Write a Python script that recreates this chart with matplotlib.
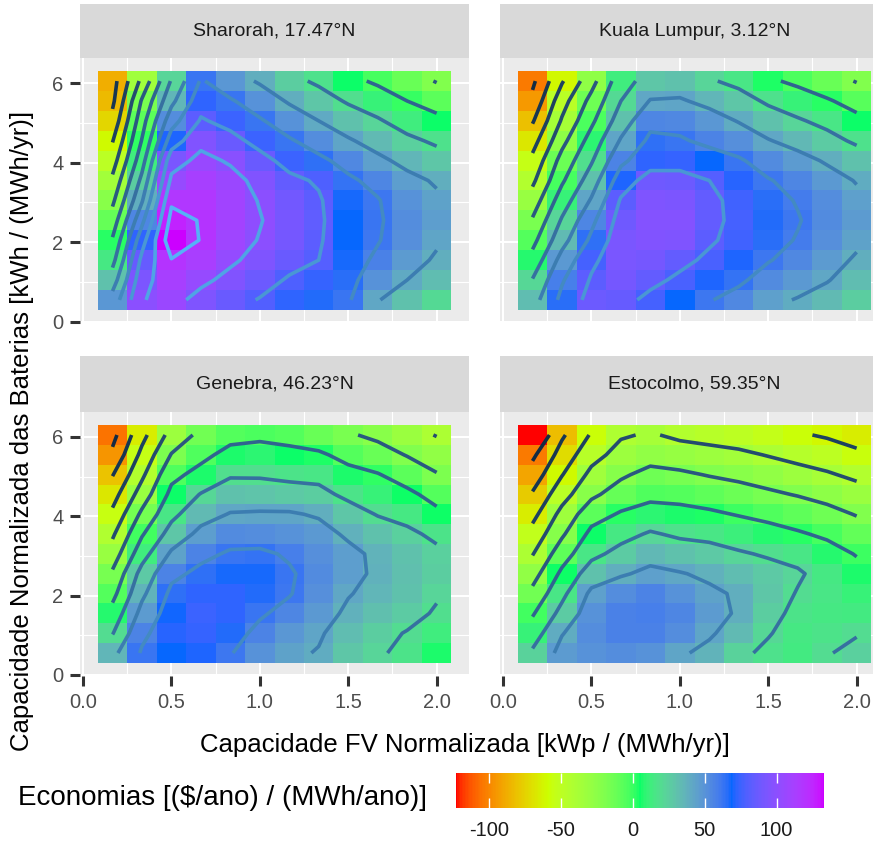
import numpy as np
import matplotlib
matplotlib.use("Agg")
import matplotlib.pyplot as plt
from matplotlib.colors import ListedColormap, Normalize
from matplotlib.cm import ScalarMappable

plt.rcParams['font.family'] = ['Liberation Sans', 'DejaVu Sans']
plt.rcParams['axes.unicode_minus'] = False

# capacidade FV normalizada (centros das colunas)
pv_cap = [0.167, 0.333, 0.5, 0.667, 0.833, 1.0, 1.167, 1.333, 1.5, 1.667, 1.833, 2.0]
# capacidade das baterias (centros das linhas, de cima para baixo)
bat_cap = [6.05, 5.55, 5.05, 4.55, 4.05, 3.55, 3.05, 2.55, 2.05, 1.55, 1.05, 0.55]

sites = ["Sharorah, 17.47°N", "Kuala Lumpur, 3.12°N",
         "Genebra, 46.23°N", "Estocolmo, 59.35°N"]

# economias [($/ano) / (MWh/ano)], linhas de cima para baixo
sharorah = [
    [-88, -35, 22, 62, 48, 38, 25, 17, 5, -3, -12, -21],
    [-84, -18, 35, 72, 62, 50, 38, 28, 18, 10, 0, -8],
    [-74, -8, 52, 82, 74, 62, 50, 40, 30, 22, 12, 5],
    [-61, 1, 70, 95, 86, 74, 62, 52, 42, 33, 24, 17],
    [-49, 12, 92, 105, 98, 86, 74, 64, 54, 44, 35, 28],
    [-36, 25, 104, 112, 106, 95, 84, 78, 63, 55, 45, 38],
    [-24, 38, 117, 117, 109, 99, 89, 82, 67, 61, 50, 43],
    [-11, 55, 126, 119, 110, 101, 91, 83, 68, 62, 52, 45],
    [2, 72, 133, 119, 108, 99, 90, 82, 68, 61, 51, 42],
    [14, 85, 119, 113, 103, 94, 86, 80, 67, 57, 46, 38],
    [30, 93, 112, 104, 95, 87, 78, 73, 65, 50, 40, 32],
    [48, 99, 106, 94, 86, 79, 72, 66, 62, 41, 30, 20],
]
kuala_lumpur = [
    [-104, -62, -27, 12, 28, 30, 22, 15, 3, -4, -12, -21],
    [-95, -48, -14, 20, 41, 42, 35, 28, 17, 10, 2, -7],
    [-82, -38, -4, 30, 55, 54, 48, 39, 30, 22, 15, 5],
    [-68, -26, 8, 42, 64, 62, 56, 51, 41, 34, 26, 17],
    [-55, -13, 18, 56, 72, 73, 68, 62, 53, 46, 38, 30],
    [-44, -3, 30, 70, 88, 87, 80, 71, 61, 55, 47, 39],
    [-31, 10, 42, 82, 94, 93, 84, 75, 65, 59, 52, 44],
    [-18, 22, 55, 88, 96, 96, 84, 76, 66, 61, 53, 46],
    [-6, 33, 64, 92, 95, 94, 82, 75, 65, 59, 51, 43],
    [7, 47, 76, 92, 90, 84, 77, 70, 61, 54, 46, 38],
    [21, 58, 82, 90, 84, 77, 70, 63, 53, 47, 41, 32],
    [32, 65, 87, 85, 76, 68, 61, 54, 44, 39, 33, 25],
]
genebra = [
    [-106, -66, -33, -15, -6, -4, -6, -12, -18, -24, -32, -41],
    [-96, -55, -19, -5, 6, 8, 5, 3, -6, -12, -21, -28],
    [-81, -44, -5, 6, 18, 18, 16, 15, 6, 1, -8, -19],
    [-68, -31, 5, 21, 30, 29, 27, 25, 16, 10, 4, -6],
    [-56, -16, 15, 33, 41, 42, 42, 38, 28, 19, 14, 4],
    [-43, -2, 28, 45, 53, 52, 50, 47, 37, 30, 24, 16],
    [-31, 12, 43, 56, 62, 63, 58, 51, 45, 36, 30, 24],
    [-17, 27, 56, 64, 67, 67, 62, 53, 45, 37, 31, 25],
    [-6, 36, 64, 72, 72, 66, 61, 51, 41, 35, 30, 22],
    [7, 46, 69, 74, 72, 62, 55, 47, 37, 31, 26, 18],
    [19, 56, 71, 73, 66, 56, 48, 42, 32, 25, 19, 12],
    [35, 62, 68, 70, 61, 50, 43, 39, 28, 22, 16, 6],
]
estocolmo = [
    [-123, -83, -58, -42, -38, -44, -47, -50, -54, -58, -62, -66],
    [-104, -72, -47, -33, -28, -30, -33, -36, -41, -46, -50, -57],
    [-91, -61, -35, -23, -14, -17, -21, -24, -28, -33, -38, -44],
    [-78, -48, -24, -11, -5, -6, -9, -13, -17, -21, -26, -32],
    [-66, -34, -8, 2, 8, 6, 3, -1, -5, -9, -14, -21],
    [-53, -23, 5, 14, 22, 17, 15, 11, 7, 2, -3, -10],
    [-41, -9, 15, 26, 34, 30, 27, 22, 18, 15, 7, -1],
    [-28, 4, 30, 38, 44, 41, 37, 32, 27, 22, 14, 6],
    [-15, 15, 44, 52, 56, 50, 43, 38, 28, 19, 15, 10],
    [-2, 26, 50, 57, 58, 55, 46, 38, 25, 16, 14, 13],
    [10, 39, 52, 57, 57, 52, 42, 33, 21, 14, 16, 19],
    [23, 46, 50, 52, 50, 42, 36, 23, 17, 13, 19, 24],
]
savings = [sharorah, kuala_lumpur, genebra, estocolmo]

fill_colors = ["#FF0000", "#CCFF00", "#00FF66", "#0066FF", "#CC00FF"]
line_colors = ["#132B43", "#56B1F7"]
contour_levels = np.arange(-100, 121, 20)

x_label = "Capacidade FV Normalizada [kWp / (MWh/yr)]"
y_label = "Capacidade Normalizada das Baterias [kWh / (MWh/yr)]"
legend_title = r"Economias [(\$/ano) / (MWh/ano)]"

# interpolacao em Lab, como o ggplot
M = np.array([[0.4124564, 0.3575761, 0.1804375],
              [0.2126729, 0.7151522, 0.0721750],
              [0.0193339, 0.1191920, 0.9503041]])
WHITE = np.array([0.95047, 1.0, 1.08883])


def hex_to_lab(h):
    rgb = np.array([int(h[i:i + 2], 16) for i in (1, 3, 5)]) / 255.0
    lin = np.where(rgb <= 0.04045, rgb / 12.92, ((rgb + 0.055) / 1.055) ** 2.4)
    xyz = M @ lin / WHITE
    f = np.where(xyz > 216 / 24389, np.cbrt(xyz), (24389 / 27 * xyz + 16) / 116)
    return np.array([116 * f[1] - 16, 500 * (f[0] - f[1]), 200 * (f[1] - f[2])])


def lab_to_rgb(lab):
    fy = (lab[0] + 16) / 116
    f = np.array([fy + lab[1] / 500, fy, fy - lab[2] / 200])
    xyz = np.where(f ** 3 > 216 / 24389, f ** 3, (116 * f - 16) / (24389 / 27))
    lin = np.clip(np.linalg.solve(M, xyz * WHITE), 0, 1)
    rgb = np.where(lin <= 0.0031308, 12.92 * lin, 1.055 * lin ** (1 / 2.4) - 0.055)
    return np.clip(rgb, 0, 1)


def lab_cmap(hexes, n=256):
    labs = np.array([hex_to_lab(h) for h in hexes])
    pos = np.linspace(0, 1, len(hexes))
    cols = []
    for t in np.linspace(0, 1, n):
        cols.append(lab_to_rgb(np.array([np.interp(t, pos, labs[:, k]) for k in range(3)])))
    return ListedColormap(cols)


fill_cmap = lab_cmap(fill_colors)
line_cmap = lab_cmap(line_colors)
all_vals = np.array(savings)
fill_norm = Normalize(all_vals.min(), all_vals.max())
line_norm = Normalize(contour_levels.min(), contour_levels.max())

W, H = 873, 843
fig = plt.figure(figsize=(W / 100, H / 100), dpi=100)


def rect(left, top, right, bottom):
    return [left / W, 1 - bottom / H, (right - left) / W, (bottom - top) / H]


panel_px = [(80, 58, 469, 323), (500, 58, 889, 323),
            (80, 412, 469, 676), (500, 412, 889, 676)]
strip_h = [54, 54, 56, 56]

for i, (l, t, r, b) in enumerate(panel_px):
    ax = fig.add_axes(rect(l, t, r, b))
    z = np.array(savings[i])
    ax.set_facecolor("#EBEBEB")
    ax.pcolormesh(pv_cap, bat_cap, z, shading="nearest", cmap=fill_cmap, norm=fill_norm, zorder=1)
    ax.contour(pv_cap, bat_cap, z, levels=contour_levels, cmap=line_cmap, norm=line_norm,
               linewidths=2.6, zorder=2)
    ax.set_xlim(-0.017, 2.183)
    ax.set_ylim(-0.03, 6.63)
    ax.set_xticks([0, 0.5, 1, 1.5, 2])
    ax.set_xticklabels(["0.0", "0.5", "1.0", "1.5", "2.0"])
    ax.set_xticks([0.25, 0.75, 1.25, 1.75], minor=True)
    ax.set_yticks([0, 2, 4, 6])
    ax.set_yticks([1, 3, 5], minor=True)
    ax.set_axisbelow(True)
    ax.grid(which="major", color="white", lw=1.5)
    ax.grid(which="minor", color="white", lw=0.8)
    for s in ax.spines.values():
        s.set_visible(False)
    ax.tick_params(which="minor", length=0)
    ax.tick_params(which="major", direction="out", length=7, width=2.2, color="#333333",
                   labelcolor="#4D4D4D", labelsize=14.5, pad=5)
    if i % 2 == 1:
        ax.tick_params(left=False, labelleft=False)
    if i < 2:
        ax.tick_params(bottom=False, labelbottom=False)

    sax = fig.add_axes(rect(l, t - strip_h[i], r, t))
    sax.set_facecolor("#D9D9D9")
    sax.set_xticks([])
    sax.set_yticks([])
    for s in sax.spines.values():
        s.set_visible(False)
    sax.text(0.5, 0.5, sites[i], ha="center", va="center", fontsize=14,
             color="#1A1A1A", transform=sax.transAxes)

fig.text(22 / W, 1 - 431 / H, y_label, rotation=90, ha="center", va="center", fontsize=18.5)
fig.text(465 / W, 1 - 745 / H, x_label, ha="center", va="center", fontsize=18.5)
fig.text(18 / W, 1 - 798 / H, legend_title, ha="left", va="center", fontsize=20)

cax = fig.add_axes(rect(456, 773, 824, 808))
cb = fig.colorbar(ScalarMappable(norm=fill_norm, cmap=fill_cmap), cax=cax,
                  orientation="horizontal", ticks=[-100, -50, 0, 50, 100])
cb.outline.set_visible(False)
cax.tick_params(direction="in", length=7, width=1, color="white", top=True, bottom=True,
                labelcolor="#1A1A1A", labelsize=14.5, pad=9)

fig.savefig("out.png", dpi=100)
